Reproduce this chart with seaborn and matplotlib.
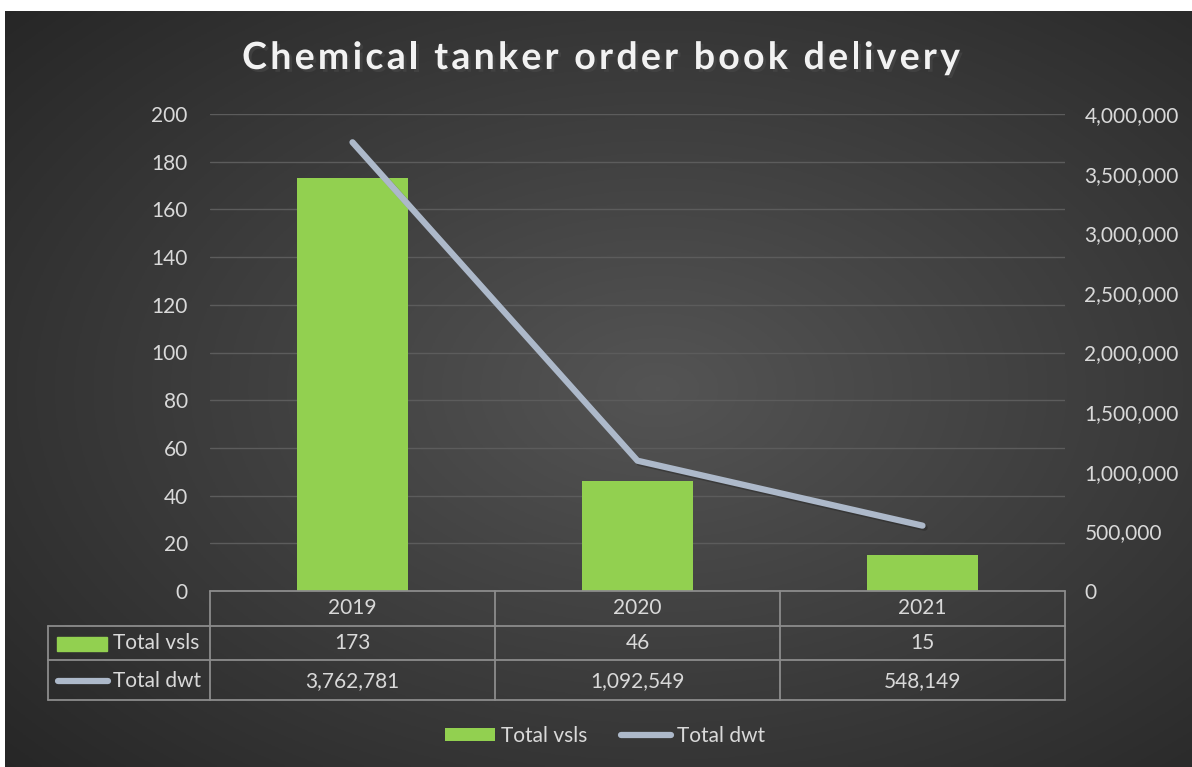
import matplotlib
matplotlib.use('Agg')
import matplotlib.pyplot as plt
import matplotlib.patheffects as pe
import matplotlib.transforms as mtransforms
from matplotlib.lines import Line2D
from matplotlib.patches import Patch, Rectangle
import numpy as np
import pandas as pd
import seaborn as sns

years = ['2019', '2020', '2021']
total_vsls = [173, 46, 15]
total_dwt = [3762781, 1092549, 548149]
left_ticks = [0, 20, 40, 60, 80, 100, 120, 140, 160, 180, 200]
right_ticks = [0, 500000, 1000000, 1500000, 2000000, 2500000, 3000000, 3500000, 4000000]
title = 'Chemical tanker order book delivery'

GREEN = '#92D050'
LINE = '#ADB9CA'
TXT = '#D9D9D9'
TBL = '#8C8C8C'

sns.set_theme(style='dark')
plt.rcParams['font.family'] = ['Lato', 'DejaVu Sans']

W, H = 1192, 767
fig = plt.figure(figsize=(W / 100, H / 100), dpi=100, facecolor='white')

def fx(px):
    return px / W

def fy(py):
    return 1 - py / H

# radial gradient background
bg = fig.add_axes([fx(5), 0, 1 - fx(5), 1 - 11 / H], zorder=-5)
gx, gy = np.meshgrid(np.linspace(0, 1, 400), np.linspace(0, 1, 260))
r = np.sqrt(((gx - 0.55) / 0.75) ** 2 + ((gy - 0.5) / 0.75) ** 2)
r = np.clip(r, 0, 1)
shade = 0.33 - 0.18 * r
bg.imshow(np.dstack([shade, shade, shade]), aspect='auto', extent=(0, 1, 0, 1))
bg.axis('off')

ax = fig.add_axes([fx(210), fy(591), fx(1065) - fx(210), (591 - 114) / H])
ax.set_facecolor('none')
df = pd.DataFrame({'year': years, 'vsls': total_vsls, 'dwt': total_dwt})
sns.barplot(data=df, x='year', y='vsls', color=GREEN, saturation=1, width=0.39,
            edgecolor='none', linewidth=0, ax=ax, zorder=3)
ax.set_ylim(0, 200)
ax.set_xlim(-0.5, len(years) - 0.5)
ax.set_yticks(left_ticks)
ax.set_xticks([])
ax.set_xlabel('')
ax.set_ylabel('')
ax.yaxis.grid(True, color='#5C5C5C', lw=1)
ax.tick_params(axis='y', colors=TXT, labelsize=15, length=0, pad=16)
for s in ax.spines.values():
    s.set_visible(False)

ax2 = ax.twinx()
sns.lineplot(x=np.arange(len(years)), y=df['dwt'], ax=ax2, color=LINE, lw=4.5,
             solid_capstyle='round', solid_joinstyle='round', zorder=4,
             path_effects=[pe.SimpleLineShadow(offset=(1.5, -1.5), alpha=0.35), pe.Normal()])
ax2.set_ylim(0, 4000000)
ax2.set_yticks(right_ticks)
ax2.set_yticklabels([f'{v:,}' for v in right_ticks])
ax2.set_ylabel('')
ax2.tick_params(axis='y', colors=TXT, labelsize=15, length=0, pad=14)
ax2.grid(False)
for s in ax2.spines.values():
    s.set_visible(False)

# data table
trans = mtransforms.blended_transform_factory(ax.transData, fig.transFigure)
def hline(py, x0, x1):
    fig.add_artist(Line2D([fx(x0), fx(x1)], [fy(py), fy(py)], color=TBL, lw=1.3))
def vline(px, y0, y1):
    fig.add_artist(Line2D([fx(px), fx(px)], [fy(y0), fy(y1)], color=TBL, lw=1.3))

hline(591, 210, 1065)
for py in [626, 660, 700]:
    hline(py, 48, 1065)
vline(48, 626, 700)
for px in [210, 495, 780, 1065]:
    vline(px, 591, 700)

for i, yr in enumerate(years):
    fig.text(i, fy(608), yr, transform=trans, ha='center', va='center', color=TXT, fontsize=15)
    fig.text(i, fy(643), f'{total_vsls[i]:,}', transform=trans, ha='center', va='center', color=TXT, fontsize=15)
    fig.text(i, fy(681), f'{total_dwt[i]:,}', transform=trans, ha='center', va='center', color=TXT, fontsize=15)

fig.add_artist(Rectangle((fx(57), fy(651)), fx(107) - fx(57), (651 - 637) / H, color=GREEN))
fig.text(fx(113), fy(643), 'Total vsls', ha='left', va='center', color=TXT, fontsize=15)
fig.add_artist(Line2D([fx(58), fx(108)], [fy(681), fy(681)], color=LINE, lw=4.5, solid_capstyle='round'))
fig.text(fx(113), fy(681), 'Total dwt', ha='left', va='center', color=TXT, fontsize=15)

# legend
handles = [Patch(facecolor=GREEN, edgecolor='none', label='Total vsls'),
           Line2D([0], [0], color=LINE, lw=4.5, solid_capstyle='round', label='Total dwt')]
leg = fig.legend(handles=handles, loc='center', bbox_to_anchor=(fx(605), fy(736)), ncol=2,
                 frameon=False, fontsize=15, handlelength=2.4, handleheight=0.6,
                 handletextpad=0.3, columnspacing=1.6)
for t in leg.get_texts():
    t.set_color(TXT)

# letter-spaced title, drawn char by char
renderer = fig.canvas.get_renderer()
tkw = dict(fontsize=27, fontweight='bold')
def text_w(s):
    t = fig.text(0, 0, s, **tkw)
    w = t.get_window_extent(renderer).width
    t.remove()
    return w

spacing = 3.3
full_w = text_w(title) + spacing * (len(title) - 1)
x0 = 601 - full_w / 2
for i, ch in enumerate(title):
    if ch == ' ':
        continue
    right = x0 + text_w(title[:i + 1]) + spacing * i
    fig.text(fx(right), fy(58), ch, ha='right', va='center', color='#F2F2F2', **tkw,
             path_effects=[pe.SimplePatchShadow(offset=(2, -2), alpha=0.6), pe.Normal()])

fig.savefig('out.png', dpi=100)
